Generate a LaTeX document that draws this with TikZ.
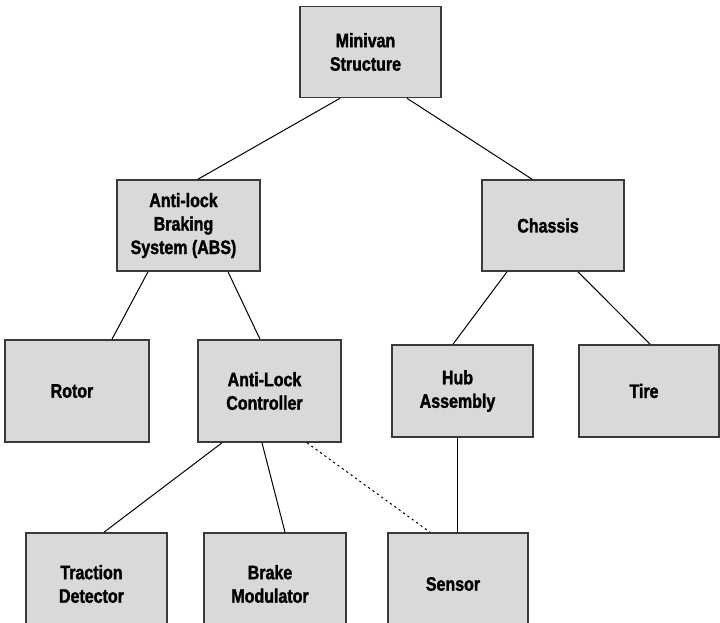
\documentclass[tikz,border=0pt]{standalone}
\usepackage{fontspec}
\newfontfamily\boxfont{Liberation Sans Bold}[FakeStretch=0.82, FakeBold=1.6]
\definecolor{boxfill}{HTML}{D9D9D9}
\definecolor{boxline}{HTML}{3A3A3A}
\tikzset{
  part/.style={draw=boxline, fill=boxfill, line width=1.6pt, rectangle,
    inner sep=0pt, minimum width=141pt, minimum height=#1},
  part/.default=91pt,
  lbl/.style={align=center, inner sep=0pt, xshift=-5pt,
    font=\boxfont\fontsize{19.5}{23.5}\selectfont},
  link/.style={draw=black, line width=1pt},
  weak/.style={draw=black, line width=1pt, dash pattern=on 2.2pt off 3.2pt},
}
\begin{document}
\begin{tikzpicture}[x=1pt, y=-1pt]
  \useasboundingbox (0,0) rectangle (720,623);

  % top level
  \node[part, label={[lbl]center:Minivan\\Structure}] (minivan) at (370.5,52) {};

  % second level
  \node[part, minimum width=143pt, label={[lbl]center:Anti-lock\\Braking\\System (ABS)}] (abs) at (188.5,225.5) {};
  \node[part, minimum width=142pt, label={[lbl]center:Chassis}] (chassis) at (553,225.5) {};

  % third level
  \node[part=102pt, minimum width=144pt, label={[lbl]center:Rotor}] (rotor) at (77,391) {};
  \node[part=102pt, minimum width=143pt, label={[lbl]center:Anti-Lock\\Controller}] (alc) at (269.5,391) {};
  \node[part=92pt, label={[lbl]center:Hub\\Assembly}] (hub) at (462.5,391) {};
  \node[part=92pt, minimum width=140pt, label={[lbl]center:Tire}] (tire) at (649,391) {};

  % bottom level
  \node[part=102pt, label={[lbl]center:Traction\\Detector}] (traction) at (96.5,584) {};
  \node[part=102pt, minimum width=142pt, label={[lbl]center:Brake\\Modulator}] (brake) at (275,584) {};
  \node[part=102pt, minimum width=140pt, label={[lbl]center:Sensor}] (sensor) at (458,584) {};

  % connectors
  \draw[link] ([xshift=-30.5pt]minivan.south) -- ([xshift=9.5pt]abs.north);
  \draw[link] ([xshift=36.5pt]minivan.south) -- ([xshift=-21pt]chassis.north);
  \draw[link] ([xshift=-40.5pt]abs.south) -- ([xshift=35pt]rotor.north);
  \draw[link] ([xshift=39.5pt]abs.south) -- ([xshift=-9.5pt]alc.north);
  \draw[link] ([xshift=-46pt]chassis.south) -- ([xshift=-9.5pt]hub.north);
  \draw[link] ([xshift=25pt]chassis.south) -- ([xshift=1pt]tire.north);
  \draw[link] ([xshift=-47.5pt]alc.south) -- ([xshift=7.5pt]traction.north);
  \draw[link] ([xshift=-7.5pt]alc.south) -- ([xshift=10pt]brake.north);
  \draw[weak] ([xshift=37.5pt]alc.south) -- ([xshift=-28pt]sensor.north);
  \draw[link] ([xshift=-5.5pt]hub.south) -- ([xshift=-1pt]sensor.north);
\end{tikzpicture}
\end{document}
